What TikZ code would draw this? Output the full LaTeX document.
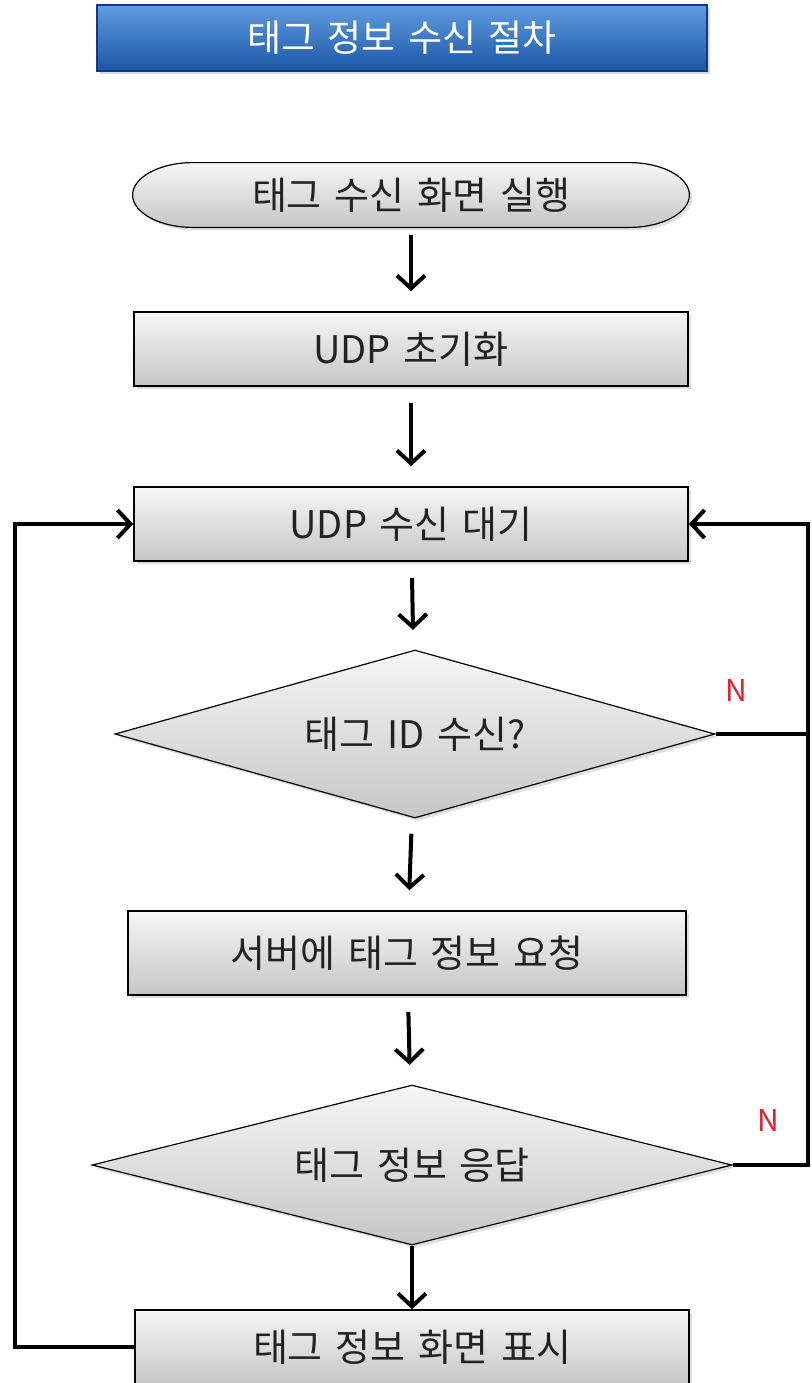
\documentclass[tikz,border=0pt]{standalone}
\usepackage{fontspec}
\newfontfamily\krfont[WordSpace=1.5]{Noto Sans CJK KR}
\usetikzlibrary{arrows.meta, positioning, shapes.geometric, shadows, backgrounds}

\definecolor{titletop}{RGB}{96,156,224}
\definecolor{titlebot}{RGB}{28,86,166}
\definecolor{boxtop}{RGB}{246,246,246}
\definecolor{boxbot}{RGB}{198,198,198}
\definecolor{inkgray}{RGB}{34,34,34}
\definecolor{nored}{RGB}{228,30,42}

\tikzset{
  lbl/.style={font=\krfont\fontsize{19}{22}\selectfont, text=inkgray},
  stepbox/.style={lbl, draw=black, line width=0.8pt,
    top color=boxtop, bottom color=boxbot,
    minimum width=277pt, minimum height=37pt, inner sep=0pt,
    drop shadow={shadow xshift=1.5pt, shadow yshift=-1.5pt, opacity=0.25}},
  decision/.style={lbl, diamond, draw=black, line width=0.6pt,
    top color=boxtop, bottom color=boxbot, inner sep=0pt, aspect=3.6,
    drop shadow={shadow xshift=1.5pt, shadow yshift=-1.5pt, opacity=0.25}},
  flow/.style={line width=2pt, -{Straight Barb[length=6.5pt, width=14pt, line width=2pt]},
    shorten <=8pt, shorten >=10pt},
  loopline/.style={line width=2pt},
  nlabel/.style={font=\krfont\fontsize{15}{17}\selectfont, text=nored},
}

\begin{document}
\begin{tikzpicture}[x=0.5pt, y=-0.5pt]
  \useasboundingbox (0,0) rectangle (811,1383);

  % title bar
  \node[draw=titlebot!70!black, line width=0.6pt, top color=titletop, bottom color=titlebot,
    minimum width=305pt, minimum height=33pt, text=white,
    font=\krfont\fontsize{18.5}{21}\selectfont,
    drop shadow={shadow xshift=1.5pt, shadow yshift=-1.5pt, opacity=0.3}]
    (title) at (402,38) {태그 정보 수신 절차};

  % start, drawn as a flat oval behind its text
  \node[lbl, minimum width=278pt, minimum height=32pt, inner sep=0pt] (start) at (411,195) {태그 수신 화면 실행};
  \begin{scope}[on background layer]
    \draw[line width=0.6pt, top color=boxtop, bottom color=boxbot,
      drop shadow={shadow xshift=1.5pt, shadow yshift=-1.5pt, opacity=0.25}]
      ([xshift=30pt]start.north west) -- ([xshift=-30pt]start.north east)
      .. controls ([xshift=-13.4pt]start.north east) and ([yshift=8.8pt]start.east) .. (start.east)
      .. controls ([yshift=-8.8pt]start.east) and ([xshift=-13.4pt]start.south east) .. ([xshift=-30pt]start.south east)
      -- ([xshift=30pt]start.south west)
      .. controls ([xshift=13.4pt]start.south west) and ([yshift=-8.8pt]start.west) .. (start.west)
      .. controls ([yshift=8.8pt]start.west) and ([xshift=13.4pt]start.north west) .. cycle;
  \end{scope}

  \node[stepbox] (init) at (411,349) {UDP 초기화};
  \node[stepbox] (wait) at (411,524) {UDP 수신 대기};
  \node[decision, minimum width=300pt, minimum height=84pt] (idq) at (415,734) {태그 ID 수신?};
  \node[stepbox, minimum width=279pt, minimum height=42pt] (req) at (407,953) {서버에 태그 정보 요청};
  \node[decision, minimum width=320pt, minimum height=80pt] (resp) at (412,1165) {태그 정보 응답};
  \node[stepbox] (show) at (412,1347) {태그 정보 화면 표시};

  % main flow
  \draw[flow, shorten <=4pt] (start) -- (init);
  \draw[flow] (init) -- (wait);
  \draw[flow] (wait) -- (idq);
  \draw[flow] (idq) -- (req);
  \draw[flow] (req) -- (resp);
  \draw[flow, shorten <=0pt, shorten >=0pt] (resp) -- (show);

  % loops back to waiting
  \coordinate (leftrail) at (15,0);
  \coordinate (rightrail) at (808,0);
  \draw[loopline, -{Straight Barb[length=6.5pt, width=14pt, line width=2pt]}]
    (show.west) -- (show.west -| leftrail) |- (wait.west);
  \draw[loopline, -{Straight Barb[length=6.5pt, width=14pt, line width=2pt]}]
    (idq.east) -- (idq.east -| rightrail) |- (wait.east);
  \draw[loopline] (resp.east) -- (resp.east -| rightrail) -- (idq.east -| rightrail);

  \node[nlabel] (n1) at (736,690) {N};
  \node[nlabel] (n2) at (768,1120) {N};
\end{tikzpicture}
\end{document}
